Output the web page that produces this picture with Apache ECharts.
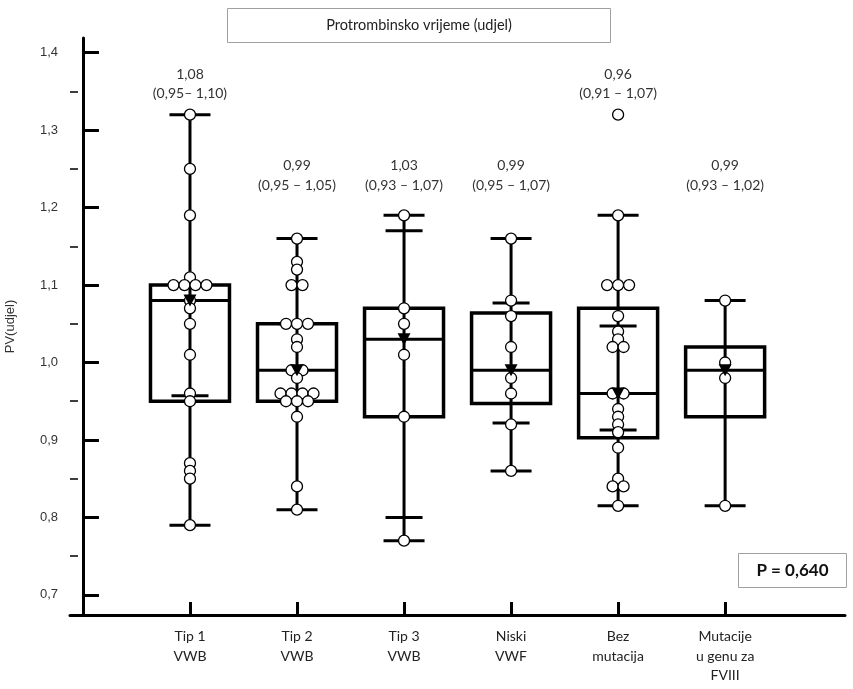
<!DOCTYPE html>
<html>
<head>
<meta charset="utf-8">
<script src="https://cdn.jsdelivr.net/npm/echarts@6/dist/echarts.min.js"></script>
<style>html,body{margin:0;padding:0;background:#fff}#c{width:853px;height:689px}</style>
</head>
<body>
<div id="c"></div>
<script>
// ---- data ----
const categories = ['Tip 1\nVWB', 'Tip 2\nVWB', 'Tip 3\nVWB', 'Niski\nVWF', 'Bez\nmutacija', 'Mutacije\nu genu za\nFVIII'];
const q1 = [0.95, 0.95, 0.93, 0.947, 0.903, 0.93];
const median = [1.08, 0.99, 1.03, 0.99, 0.96, 0.99];
const q3 = [1.10, 1.05, 1.07, 1.064, 1.07, 1.02];
const whiskerMin = [0.79, 0.81, 0.77, 0.86, 0.815, 0.815];
const whiskerMax = [1.32, 1.16, 1.19, 1.16, 1.19, 1.08];
const innerLow = [0.957, 0.958, 0.80, 0.922, 0.913, null];
const innerHigh = [1.10, 1.05, 1.17, 1.077, 1.047, null];
const medianLabels = ['1,08', '0,99', '1,03', '0,99', '0,96', '0,99'];
const rangeLabels = ['(0,95– 1,10)', '(0,95 – 1,05)', '(0,93 – 1,07)', '(0,95 – 1,07)', '(0,91 – 1,07)', '(0,93 – 1,02)'];
const pointsTip1 = [1.32, 1.25, 1.19, 1.11, 1.10, 1.10, 1.10, 1.10, 1.08, 1.07, 1.05, 1.01, 0.96, 0.95, 0.87, 0.86, 0.85, 0.79];
const pointsTip2 = [1.16, 1.13, 1.12, 1.10, 1.10, 1.05, 1.05, 1.05, 1.03, 1.02, 0.99, 0.99, 0.98, 0.96, 0.96, 0.96, 0.96, 0.95, 0.95, 0.95, 0.93, 0.84, 0.81];
const pointsTip3 = [1.19, 1.07, 1.05, 1.01, 0.93, 0.77];
const pointsNiski = [1.16, 1.08, 1.06, 1.02, 0.98, 0.96, 0.92, 0.86];
const pointsBez = [1.32, 1.19, 1.10, 1.10, 1.10, 1.06, 1.04, 1.03, 1.02, 1.02, 0.96, 0.96, 0.94, 0.93, 0.92, 0.91, 0.89, 0.85, 0.84, 0.84, 0.815];
const pointsMut = [1.08, 1.00, 0.98, 0.815];
const yMajorTicks = [0.7, 0.8, 0.9, 1.0, 1.1, 1.2, 1.3, 1.4];
const yMinorTicks = [0.75, 0.85, 0.95, 1.05, 1.15, 1.25, 1.35];
const pValueText = 'P = 0,640';
const titleText = 'Protrombinsko vrijeme (udjel)';
const yAxisName = 'PV(udjel)';

// ---- build ----
const pointGroups = [pointsTip1, pointsTip2, pointsTip3, pointsNiski, pointsBez, pointsMut];
const xs = categories.map((_, i) => i + 1);

const boxData = xs.map((x, i) => [x, q1[i], median[i], q3[i], whiskerMin[i], whiskerMax[i],
  innerLow[i] == null ? '-' : innerLow[i], innerHigh[i] == null ? '-' : innerHigh[i]]);

const SWARM = 11;
const scatterData = [];
pointGroups.forEach((arr, i) => {
  const counts = {};
  arr.forEach(v => { counts[v] = (counts[v] || 0) + 1; });
  const seen = {};
  arr.forEach(v => {
    const n = counts[v];
    const k = seen[v] || 0;
    seen[v] = k + 1;
    scatterData.push({ value: [i + 1, v], symbolOffset: [(k - (n - 1) / 2) * SWARM, 0] });
  });
});

const labelData = xs.map((x, i) => [x, Math.max.apply(null, pointGroups[i])]);

const chart = echarts.init(document.getElementById('c'), null, { renderer: 'canvas' });
const BLACK = '#000';
const option = {
  animation: false,
  backgroundColor: '#fff',
  grid: { left: 70, right: 8, top: 38, bottom: 74, containLabel: false, outerBoundsMode: 'none' },
  xAxis: {
    type: 'value', min: -0.121, max: 7.12,
    splitLine: { show: false },
    axisLine: { show: true, lineStyle: { color: BLACK, width: 3 } },
    axisTick: { show: true, inside: true, length: 13, customValues: xs, lineStyle: { color: BLACK, width: 3 } },
    axisLabel: {
      customValues: xs, margin: 12, color: '#222', fontFamily: 'Lato', fontSize: 14, lineHeight: 19.5,
      formatter: v => categories[Math.round(v) - 1] || ''
    }
  },
  yAxis: [{
    type: 'value', min: 0.674, max: 1.419,
    name: yAxisName, nameLocation: 'middle', nameRotate: 90, nameGap: 53,
    nameTextStyle: { color: '#333', fontFamily: 'Liberation Sans', fontSize: 13 },
    splitLine: { show: false },
    axisLine: { show: true, lineStyle: { color: BLACK, width: 3 } },
    axisTick: { show: true, inside: true, length: 16, customValues: yMajorTicks, lineStyle: { color: BLACK, width: 3 } },
    axisLabel: { customValues: yMajorTicks, margin: 12, color: '#333', fontFamily: 'Liberation Sans', fontSize: 13,
      formatter: v => v.toFixed(1).replace('.', ',') }
  }, {
    type: 'value', min: 0.674, max: 1.419, position: 'left', offset: 0,
    splitLine: { show: false },
    axisLine: { show: false },
    axisTick: { show: true, inside: true, length: 8, customValues: yMinorTicks, lineStyle: { color: BLACK, width: 1.5 } },
    axisLabel: { show: false }
  }],
  graphic: [
    { type: 'rect', shape: { x: 227.5, y: 8.5, width: 383, height: 34 }, style: { fill: '#fff', stroke: '#a0a0a0', lineWidth: 1 }, z: 10 },
    { type: 'text', x: 419, y: 25.5, style: { text: titleText, fill: '#222', font: '14.5px Lato', align: 'center', verticalAlign: 'middle' }, z: 11 },
    { type: 'rect', shape: { x: 738.5, y: 553.5, width: 108, height: 34 }, style: { fill: '#fff', stroke: '#a0a0a0', lineWidth: 1 }, z: 10 },
    { type: 'text', x: 792.5, y: 570.5, style: { text: pValueText, fill: '#111', font: 'bold 17px Lato', align: 'center', verticalAlign: 'middle' }, z: 11 }
  ],
  series: [{
    type: 'custom',
    z: 2,
    data: boxData,
    encode: { x: 0, y: [1, 2, 3, 4, 5] },
    renderItem: function (params, api) {
      const x = api.value(0);
      const pQ1 = api.coord([x, api.value(1)]);
      const pMed = api.coord([x, api.value(2)]);
      const pQ3 = api.coord([x, api.value(3)]);
      const pMin = api.coord([x, api.value(4)]);
      const pMax = api.coord([x, api.value(5)]);
      const cx = pQ1[0];
      const bw = 79, cw = 41, iw = 37;
      const st = { stroke: BLACK, lineWidth: 3, fill: null, lineCap: 'butt' };
      const hline = (y, w) => ({ type: 'line', shape: { x1: cx - w / 2, y1: y, x2: cx + w / 2, y2: y }, style: st });
      const children = [
        { type: 'line', shape: { x1: cx, y1: pMax[1], x2: cx, y2: pMin[1] }, style: st },
        { type: 'rect', shape: { x: cx - bw / 2, y: pQ3[1], width: bw, height: pQ1[1] - pQ3[1] }, style: { stroke: BLACK, lineWidth: 3.5, fill: null } },
        hline(pMed[1], bw),
        hline(pMax[1], cw),
        hline(pMin[1], cw)
      ];
      const lo = api.value(6), hi = api.value(7);
      if (!isNaN(lo)) children.push(hline(api.coord([x, lo])[1], iw));
      if (!isNaN(hi)) children.push(hline(api.coord([x, hi])[1], iw));
      return { type: 'group', children: children };
    }
  }, {
    type: 'scatter',
    z: 3,
    data: scatterData,
    symbol: 'circle',
    symbolSize: 11,
    itemStyle: { color: '#fff', borderColor: BLACK, borderWidth: 1.3, opacity: 1 },
    emphasis: { disabled: true }
  }, {
    type: 'scatter',
    z: 4,
    data: xs.map((x, i) => [x, median[i]]),
    symbol: 'triangle',
    symbolRotate: 180,
    symbolSize: [13, 12],
    itemStyle: { color: BLACK, opacity: 1 },
    emphasis: { disabled: true }
  }, {
    type: 'custom',
    z: 5,
    data: labelData,
    encode: { x: 0, y: 1 },
    renderItem: function (params, api) {
      const i = params.dataIndex;
      const x = api.value(0);
      const high = api.value(1) > 1.25;
      const p1 = api.coord([x, high ? 1.372 : 1.254]);
      const p2 = api.coord([x, high ? 1.347 : 1.229]);
      const ts = { fill: '#333', font: '14px Lato', align: 'center', verticalAlign: 'middle' };
      return { type: 'group', children: [
        { type: 'text', x: p1[0], y: p1[1], style: Object.assign({ text: medianLabels[i] }, ts) },
        { type: 'text', x: p2[0], y: p2[1], style: Object.assign({ text: rangeLabels[i] }, ts) }
      ] };
    }
  }]
};
chart.setOption(option);
</script>
</body>
</html>
